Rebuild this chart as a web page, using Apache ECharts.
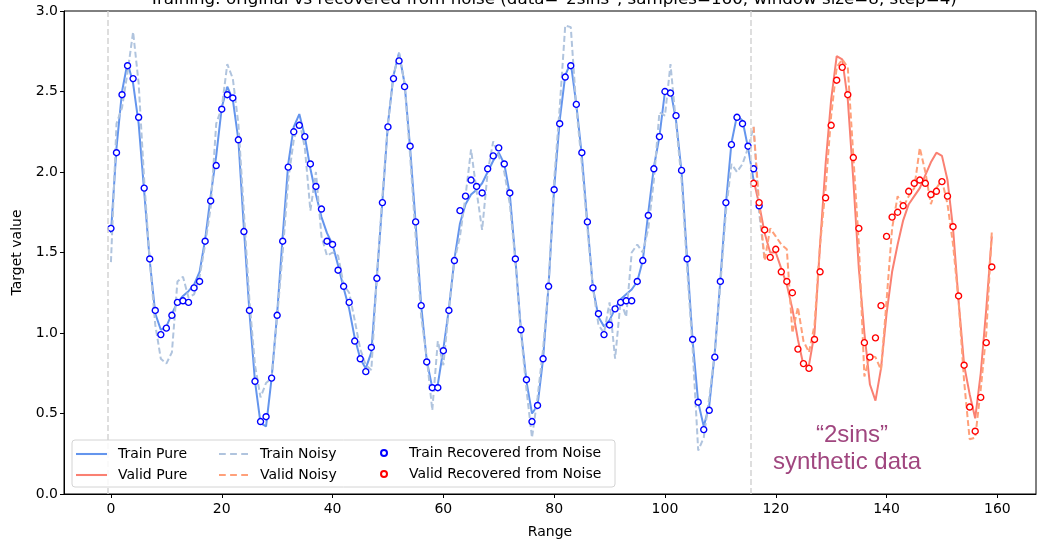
<!DOCTYPE html>
<html>
<head>
<meta charset="utf-8">
<script src="https://cdn.jsdelivr.net/npm/echarts@6/dist/echarts.min.js"></script>
<style>
html,body{margin:0;padding:0;background:#fff;}
#chart{width:1037px;height:539px;}
</style>
</head>
<body>
<div id="chart"></div>
<script>
// ---- data ----
const titleText = 'Training: original vs recovered from noise (data="2sins", samples=160, window size=8, step=4)';
const xTicks = [0, 20, 40, 60, 80, 100, 120, 140, 160];
const boundaries = [-0.5, 115.5];

const trainStart = 0;
const trainPure = [1.62,2.15,2.50,2.68,2.55,2.30,1.88,1.45,1.12,1.02,1.04,1.12,1.19,1.23,1.26,1.30,1.38,1.58,1.85,2.10,
  2.40,2.53,2.45,2.20,1.65,1.13,0.70,0.44,0.42,0.72,1.12,1.60,2.05,2.28,2.36,2.22,2.02,1.86,1.72,1.62,
  1.55,1.42,1.28,1.15,0.97,0.84,0.78,0.88,1.35,1.82,2.30,2.60,2.74,2.55,2.15,1.68,1.17,0.83,0.66,0.68,
  0.90,1.15,1.46,1.68,1.80,1.86,1.89,1.93,2.00,2.07,2.12,2.05,1.86,1.46,1.02,0.70,0.50,0.55,0.84,1.30,
  1.90,2.32,2.60,2.68,2.42,2.10,1.68,1.28,1.10,1.04,1.08,1.15,1.21,1.24,1.27,1.32,1.45,1.75,2.03,2.22,
  2.50,2.51,2.32,2.00,1.46,0.95,0.57,0.42,0.55,0.88,1.33,1.80,2.18,2.35,2.32,2.15,1.95];
const trainNoisy = [1.44,2.30,2.40,2.62,2.87,2.55,1.95,1.45,1.05,0.84,0.81,0.88,1.32,1.35,1.22,1.24,1.35,1.55,1.78,2.30,
  2.40,2.67,2.58,2.30,1.75,1.20,0.80,0.60,0.69,0.72,1.10,1.50,1.95,2.20,2.32,2.15,1.76,2.00,1.60,1.48,
  1.50,1.48,1.30,1.25,1.08,0.90,0.80,0.77,1.35,1.85,2.30,2.60,2.74,2.55,2.10,1.60,1.10,0.85,0.52,0.95,
  0.80,1.15,1.45,1.60,1.85,2.14,1.88,1.64,2.00,2.19,2.10,2.00,1.80,1.45,1.00,0.65,0.35,0.60,0.90,1.30,
  1.95,2.40,2.91,2.90,2.40,2.05,1.65,1.28,1.05,1.00,1.19,0.84,1.20,1.10,1.50,1.55,1.50,1.65,1.95,2.37,
  2.35,2.67,2.30,1.95,1.40,0.90,0.27,0.35,0.60,0.88,1.30,1.75,2.05,2.00,2.05,2.15,2.28,1.75,1.45];
const trainRecovered = [1.65,2.12,2.48,2.66,2.58,2.34,1.90,1.46,1.14,0.99,1.03,1.11,1.19,1.20,1.19,1.28,1.32,1.57,1.82,2.04,
  2.39,2.48,2.46,2.20,1.63,1.14,0.70,0.45,0.48,0.72,1.11,1.57,2.03,2.25,2.29,2.22,2.05,1.91,1.77,1.57,
  1.55,1.39,1.29,1.19,0.95,0.84,0.76,0.91,1.34,1.81,2.28,2.58,2.69,2.53,2.16,1.69,1.17,0.82,0.66,0.66,
  0.89,1.14,1.45,1.76,1.85,1.95,1.91,1.87,2.02,2.10,2.15,2.05,1.87,1.46,1.02,0.71,0.45,0.55,0.84,1.29,
  1.89,2.30,2.59,2.66,2.42,2.12,1.69,1.28,1.12,0.99,1.05,1.15,1.19,1.20,1.20,1.32,1.45,1.73,2.02,2.22,
  2.50,2.49,2.35,2.01,1.46,0.96,0.57,0.40,0.52,0.85,1.32,1.81,2.17,2.34,2.30,2.16,2.02,1.79];

const validStart = 116;
const validPure = [1.95,1.80,1.62,1.50,1.50,1.40,1.30,1.15,0.96,0.80,0.80,1.00,1.55,2.05,2.45,2.72,2.70,2.45,1.95,1.40,
  1.00,0.68,0.58,0.78,1.12,1.38,1.55,1.70,1.80,1.85,1.90,1.98,2.06,2.12,2.10,1.95,1.65,1.20,0.80,0.62,
  0.47,0.75,1.15,1.60];
const validNoisy = [2.28,1.80,1.45,1.65,1.60,1.55,1.52,1.00,1.16,0.95,0.88,1.05,1.55,1.90,2.35,2.65,2.70,2.65,2.10,1.55,
  0.73,0.86,0.85,0.77,1.20,1.65,1.85,1.78,1.85,1.90,2.15,2.00,1.80,1.90,1.95,1.80,1.55,1.20,0.70,0.34,
  0.35,0.65,1.00,1.63];
const validRecovered = [1.93,1.81,1.64,1.47,1.52,1.38,1.32,1.25,0.90,0.81,0.78,0.96,1.38,1.84,2.29,2.57,2.65,2.48,2.09,1.65,
  0.94,0.85,0.97,1.17,1.60,1.72,1.75,1.79,1.88,1.93,1.95,1.93,1.86,1.88,1.94,1.85,1.66,1.23,0.80,0.54,
  0.39,0.60,0.94,1.41];

// ---- build ----
const pts = (arr, start) => arr.map((v, i) => [start + i, v]);
const FONT = 'DejaVu Sans';
const chart = echarts.init(document.getElementById('chart'), null, {renderer: 'canvas'});

const lineSeries = (name, arr, start, color, dashed, z) => ({
  name, type: 'line', data: pts(arr, start), symbol: 'none', showSymbol: false,
  lineStyle: {color, width: 2, type: dashed ? [6, 3] : 'solid'},
  itemStyle: {color}, z, animation: false
});
const scatterSeries = (name, arr, start, color, z) => ({
  name, type: 'scatter', data: pts(arr, start), symbol: 'circle', symbolSize: 6,
  itemStyle: {color: '#ffffff', borderColor: color, borderWidth: 1.4, opacity: 1},
  z, animation: false
});

const SOLID_ICON = 'path://M0,0h30v2h-30z';
const DASH_ICON = 'path://M0,0h7v2h-7zM11.5,0h7v2h-7zM23,0h7v2h-7z';

const legendCommon = {
  orient: 'vertical', padding: 0, itemGap: 7, symbolKeepAspect: true,
  textStyle: {fontFamily: FONT, fontSize: 14, color: '#000', lineHeight: 14},
  selectedMode: false, z: 10
};

const option = {
  animation: false,
  backgroundColor: '#fff',
  textStyle: {fontFamily: FONT},
  grid: {left: 64, right: 1, top: 11, bottom: 45, show: true, borderColor: '#000', borderWidth: 1,
    backgroundColor: 'transparent', containLabel: false, outerBoundsMode: 'none'},
  xAxis: {
    type: 'value', min: -8.475, max: 166.975,
    axisLine: {show: true, onZero: false, lineStyle: {color: '#000', width: 1}},
    axisTick: {show: true, length: 4, customValues: xTicks, lineStyle: {color: '#000'}},
    axisLabel: {customValues: xTicks, color: '#000', fontSize: 14, margin: 8, fontFamily: FONT},
    splitLine: {show: false},
    name: 'Range', nameLocation: 'middle', nameGap: 31,
    nameTextStyle: {color: '#000', fontSize: 14, fontFamily: FONT}
  },
  yAxis: {
    type: 'value', min: 0, max: 3, interval: 0.5,
    axisLine: {show: true, onZero: false, lineStyle: {color: '#000', width: 1}},
    axisTick: {show: true, length: 4, lineStyle: {color: '#000'}},
    axisLabel: {color: '#000', fontSize: 14, margin: 6, fontFamily: FONT, formatter: v => v.toFixed(1)},
    splitLine: {show: false},
    name: 'Target value', nameLocation: 'middle', nameGap: 40,
    nameTextStyle: {color: '#000', fontSize: 14, fontFamily: FONT}
  },
  legend: [
    Object.assign({}, legendCommon, {
      data: [{name: 'Train Pure', icon: SOLID_ICON}, {name: 'Valid Pure', icon: SOLID_ICON}],
      left: 76, top: 447, itemWidth: 31, itemHeight: 14,
      textStyle: Object.assign({}, legendCommon.textStyle, {padding: [0, 0, 0, 6]})}),
    Object.assign({}, legendCommon, {
      data: [{name: 'Train Noisy', icon: DASH_ICON}, {name: 'Valid Noisy', icon: DASH_ICON}],
      left: 219, top: 447, itemWidth: 29, itemHeight: 14,
      textStyle: Object.assign({}, legendCommon.textStyle, {padding: [0, 0, 0, 7]})}),
    Object.assign({}, legendCommon, {
      data: ['Train Recovered from Noise', 'Valid Recovered from Noise'],
      left: 380, top: 446, itemWidth: 40, itemHeight: 6, itemGap: 7})
  ],
  graphic: [
    {type: 'rect', z: 9, shape: {x: 72, y: 440, width: 543, height: 47, r: 3},
      style: {fill: 'rgba(255,255,255,0.85)', stroke: '#d4d4d4', lineWidth: 1}},
    {type: 'text', z: 9, x: 553, y: 0, style: {text: titleText, fontFamily: FONT, fontSize: 16.7, fill: '#000', textAlign: 'center', textVerticalAlign: 'middle'}},
    {type: 'text', z: 9, x: 852, y: 435, style: {text: '\u201c2sins\u201d', fontFamily: 'Liberation Sans', fontSize: 24, fill: '#a0467f', textAlign: 'center', textVerticalAlign: 'middle'}},
    {type: 'text', z: 9, x: 847, y: 462, style: {text: 'synthetic data', fontFamily: 'Liberation Sans', fontSize: 24, fill: '#a0467f', textAlign: 'center', textVerticalAlign: 'middle'}}
  ],
  series: [
    {
      name: 'boundaries', type: 'line', data: [], z: 1, silent: true,
      markLine: {
        silent: true, symbol: ['none', 'none'], label: {show: false}, animation: false,
        lineStyle: {color: '#d3d3d3', width: 1.5, type: [6, 3]},
        data: boundaries.map(b => ({xAxis: b}))
      }
    },
    lineSeries('Train Pure', trainPure, trainStart, '#6495ED', false, 2),
    lineSeries('Valid Pure', validPure, validStart, '#FA8072', false, 2),
    lineSeries('Train Noisy', trainNoisy, trainStart, '#B0C4DE', true, 3),
    lineSeries('Valid Noisy', validNoisy, validStart, '#FFA07A', true, 3),
    scatterSeries('Train Recovered from Noise', trainRecovered, trainStart, '#0000FF', 4),
    scatterSeries('Valid Recovered from Noise', validRecovered, validStart, '#FF0000', 4)
  ]
};
chart.setOption(option);
</script>
</body>
</html>
